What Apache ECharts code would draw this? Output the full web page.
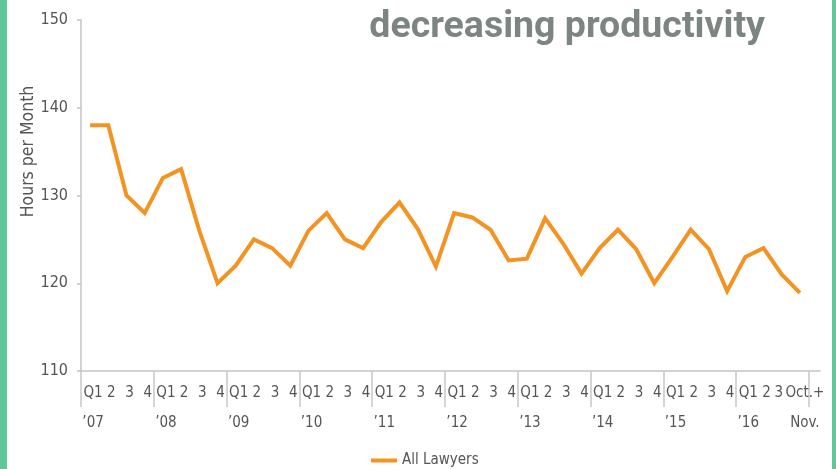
<!DOCTYPE html>
<html>
<head>
<meta charset="utf-8">
<script src="https://cdn.jsdelivr.net/npm/echarts@6/dist/echarts.min.js"></script>
<style>
  html, body { margin: 0; padding: 0; background: #ffffff; }
  #wrap { position: relative; width: 836px; height: 469px; overflow: hidden; background: #ffffff; }
  #chart { position: absolute; left: 0; top: 0; width: 836px; height: 469px; }
  .edgeL { position: absolute; left: 0; top: 0; width: 7px; height: 469px; background: #5ec79c; }
  .edgeR { position: absolute; right: 0; top: 0; width: 4px; height: 469px; background: #5ec79c; }
</style>
</head>
<body>
<div id="wrap">
  <div id="chart"></div>
  <div class="edgeL"></div>
  <div class="edgeR"></div>
</div>
<script>
// ---- data ----
const quarterLabels = [
  'Q1','2','3','4', 'Q1','2','3','4', 'Q1','2','3','4', 'Q1','2','3','4', 'Q1','2','3','4',
  'Q1','2','3','4', 'Q1','2','3','4', 'Q1','2','3','4', 'Q1','2','3','4', 'Q1','2','3','Oct.+'
];
const yearLabels = [
  '’07','','','', '’08','','','', '’09','','','', '’10','','','', '’11','','','',
  '’12','','','', '’13','','','', '’14','','','', '’15','','','', '’16','','','Nov.'
];
const allLawyers = [
  138, 138, 130, 128,
  132, 133, 126, 120,
  122, 125, 124, 122,
  126, 128, 125, 124,
  127, 129.2, 126.2, 121.9,
  128, 127.5, 126.1, 122.6,
  122.8, 127.4, 124.5, 121.1,
  124, 126.1, 123.9, 120,
  123, 126.1, 123.9, 119.1,
  123, 124, 121, 118.9
];
const yTicks = [110, 120, 130, 140, 150];

const labelFont = "'Liberation Sans Narrow', 'DejaVu Sans Condensed', Lato, sans-serif";
const lastIndex = quarterLabels.length - 1;
const categories = quarterLabels.map((q, i) => {
  const item = { value: q + '\n' + (yearLabels[i] || ' ') };
  if (i === lastIndex) item.textStyle = { padding: [0, 0, 0, 10] };
  if (i === lastIndex - 1) item.textStyle = { padding: [0, 6, 0, 0] };
  return item;
});

const chart = echarts.init(document.getElementById('chart'), null, { renderer: 'canvas' });
chart.setOption({
  backgroundColor: 'transparent',
  animation: false,
  title: {
    text: 'decreasing productivity',
    right: 66,
    top: 4,
    textStyle: { fontFamily: 'Roboto', fontWeight: 'bold', fontSize: 37.5, color: '#7d8583' }
  },
  legend: {
    data: ['All Lawyers'],
    left: 366,
    top: 448,
    icon: 'rect',
    itemWidth: 26,
    itemHeight: 4,
    textStyle: { fontFamily: labelFont, fontSize: 15, color: '#555555' }
  },
  grid: [
    { left: 81, right: 27, top: 20, bottom: 98, containLabel: false },
    { left: 80, right: 16, top: 20, bottom: 98, containLabel: false }
  ],
  xAxis: [{
    type: 'category',
    gridIndex: 0,
    data: categories,
    boundaryGap: true,
    axisLine: { show: false },
    splitLine: { show: false },
    axisTick: {
      show: true,
      alignWithLabel: false,
      interval: (i) => i % 4 === 0,
      length: 36,
      lineStyle: { color: '#c8c8c8', width: 1.5 }
    },
    axisLabel: {
      interval: 0,
      margin: 7,
      lineHeight: 30,
      padding: [0, 0, 0, 6],
      fontFamily: labelFont,
      fontSize: 15,
      color: '#555555'
    }
  }, {
    type: 'value',
    gridIndex: 1,
    min: 0,
    max: 1,
    axisLine: { show: true, onZero: false, lineStyle: { color: '#c4c4c4', width: 1.5 } },
    axisTick: { show: false },
    axisLabel: { show: false },
    splitLine: { show: false }
  }],
  yAxis: [{
    type: 'value',
    gridIndex: 0,
    min: yTicks[0],
    max: yTicks[yTicks.length - 1],
    interval: 10,
    name: 'Hours per Month',
    nameLocation: 'middle',
    nameRotate: 90,
    nameGap: 44,
    nameMoveOverlap: false,
    nameTextStyle: { fontFamily: labelFont, fontSize: 17.5, color: '#555555', padding: [0, 0, 0, 88] },
    axisLine: { show: true, onZero: false, lineStyle: { color: '#c4c4c4', width: 1.5 } },
    axisTick: { show: true, length: 4, lineStyle: { color: '#c4c4c4', width: 1.5 } },
    splitLine: { show: false },
    axisLabel: { margin: 13, fontFamily: labelFont, fontSize: 16, color: '#555555' }
  }, {
    type: 'value',
    gridIndex: 1,
    show: false
  }],
  series: [{
    name: 'All Lawyers',
    type: 'line',
    xAxisIndex: 0,
    yAxisIndex: 0,
    data: allLawyers,
    symbol: 'none',
    lineStyle: { color: '#f39322', width: 4, join: 'miter' },
    itemStyle: { color: '#f39322' }
  }]
});
</script>
</body>
</html>
